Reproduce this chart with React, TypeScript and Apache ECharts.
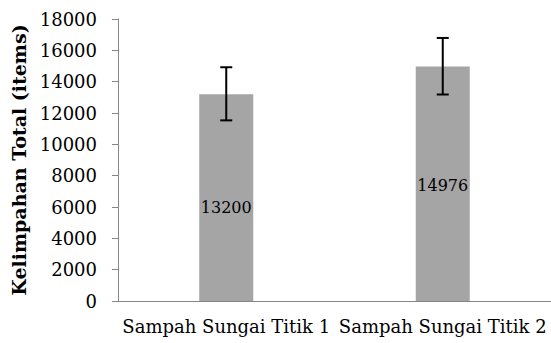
import React, { useEffect, useRef } from "react";
import * as echarts from "echarts";

const categories = ["Sampah Sungai Titik 1", "Sampah Sungai Titik 2"];
const values = [13200, 14976];
const errorLow = [11530, 13180];
const errorHigh = [14920, 16790];
const labelOffsets = [[0, 10], [0, 2]];

export default function App() {
  const ref = useRef<HTMLDivElement>(null);
  useEffect(() => {
    document.body.style.margin = "0";
    const chart = echarts.init(ref.current!, null, { renderer: "svg" });
    const font = "'DejaVu Serif', serif";
    chart.setOption({
      animation: false,
      grid: { left: 118, top: 19, width: 436, bottom: 42, containLabel: false },
      xAxis: {
        type: "category",
        data: categories,
        axisLine: { lineStyle: { color: "#868686", width: 1 } },
        axisTick: { show: false },
        axisLabel: { color: "#000", fontFamily: font, fontSize: 18, margin: 16, interval: 0 },
      },
      yAxis: {
        type: "value",
        min: 0,
        max: 18000,
        interval: 2000,
        name: "Kelimpahan Total (items)",
        nameLocation: "middle",
        nameRotate: 90,
        nameGap: 90,
        nameTextStyle: { color: "#000", fontFamily: font, fontSize: 19, fontWeight: "bold" },
        axisLine: { show: true, lineStyle: { color: "#868686", width: 1 } },
        axisTick: { show: true, length: 6, lineStyle: { color: "#868686" } },
        splitLine: { show: false },
        axisLabel: {
          color: "#000",
          fontFamily: font,
          fontSize: 18,
          margin: 21,
          formatter: (v: number) => String(v),
        },
      },
      series: [
        {
          type: "bar",
          barWidth: 54,
          itemStyle: { color: "#a5a5a5" },
          data: values.map((v, i) => ({
            value: v,
            label: { offset: labelOffsets[i] },
          })),
          label: {
            show: true,
            position: "inside",
            color: "#000",
            fontFamily: font,
            fontSize: 16,
          },
        },
        {
          type: "custom",
          data: categories.map((c, i) => [i, errorLow[i], errorHigh[i]]),
          renderItem: (params: any, api: any) => {
            const x = api.value(0);
            const lo = api.coord([x, api.value(1)]);
            const hi = api.coord([x, api.value(2)]);
            const cap = 6;
            const style = { stroke: "#000", lineWidth: 2 };
            return {
              type: "group",
              children: [
                { type: "line", shape: { x1: lo[0], y1: lo[1], x2: hi[0], y2: hi[1] }, style },
                { type: "line", shape: { x1: lo[0] - cap, y1: lo[1], x2: lo[0] + cap, y2: lo[1] }, style },
                { type: "line", shape: { x1: hi[0] - cap, y1: hi[1], x2: hi[0] + cap, y2: hi[1] }, style },
              ],
            };
          },
          z: 5,
        },
      ],
    });
    return () => chart.dispose();
  }, []);
  return <div ref={ref} style={{ width: 551, height: 343 }} />;
}
